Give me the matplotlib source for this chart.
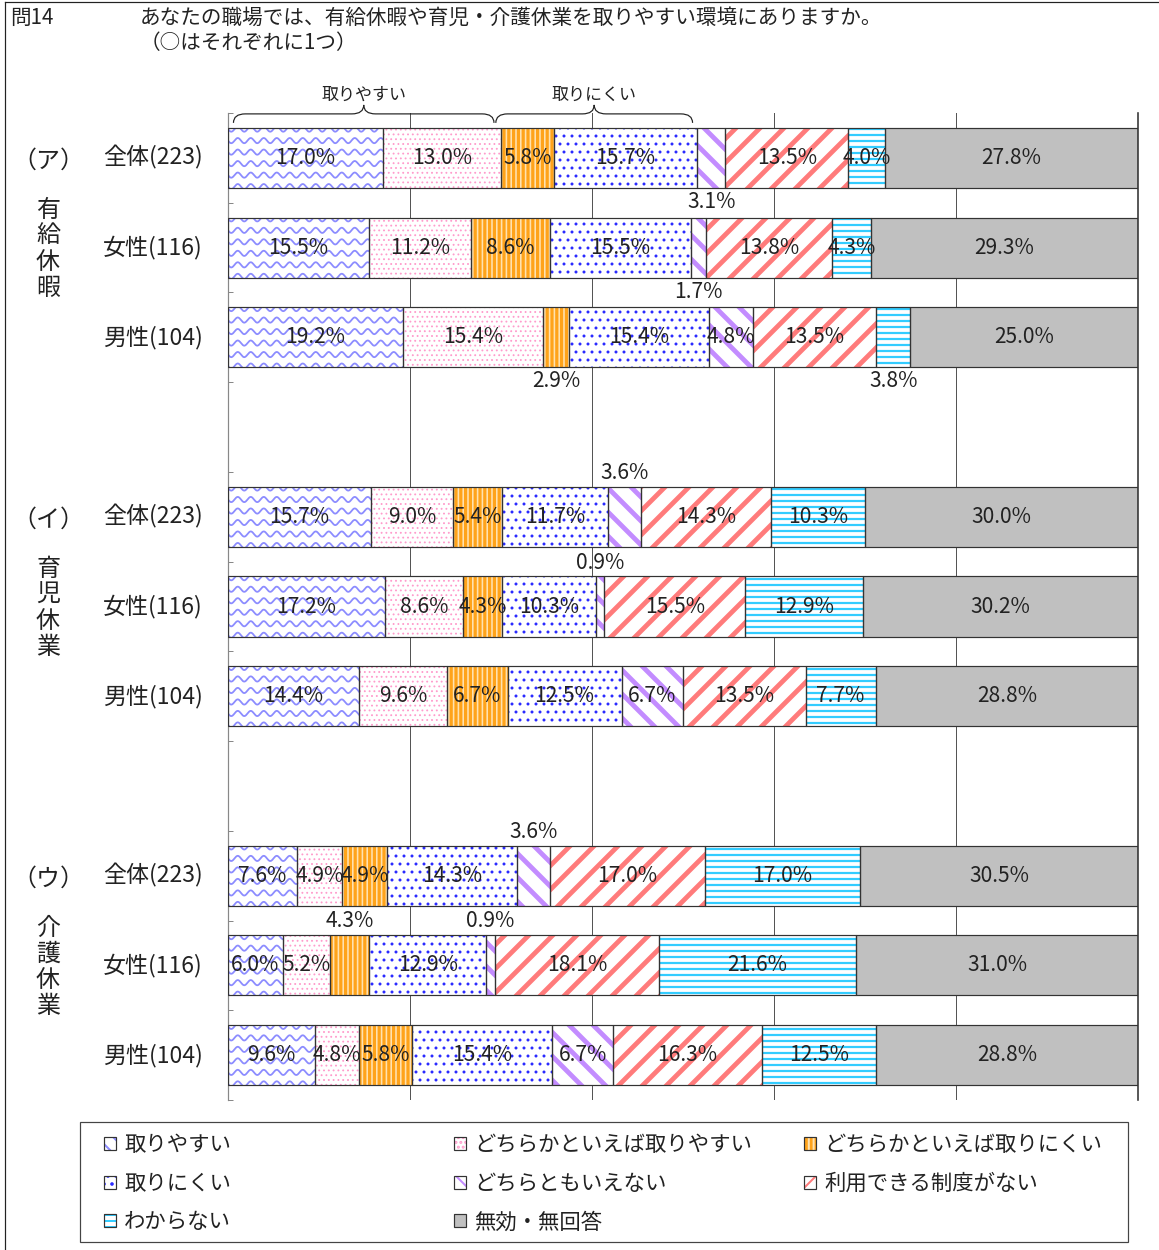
import matplotlib
matplotlib.use("Agg")
import matplotlib.pyplot as plt
import matplotlib.patches as mpatches
from matplotlib.legend_handler import HandlerTuple
from matplotlib.path import Path
import numpy as np

plt.rcParams["font.family"] = ["Noto Sans CJK JP", "DejaVu Sans"]

TITLE_NO = "問14"
TITLE = "あなたの職場では、有給休暇や育児・介護休業を取りやすい環境にありますか。"
SUBTITLE = "（○はそれぞれに1つ）"

GROUP_MARKS = ["（ア）", "（イ）", "（ウ）"]
GROUP_NAMES = ["有給休暇", "育児休業", "介護休業"]
ROW_LABELS = ["全体(223)", "女性(116)", "男性(104)"]

SERIES = ["取りやすい", "どちらかといえば取りやすい", "どちらかといえば取りにくい",
          "取りにくい", "どちらともいえない", "利用できる制度がない",
          "わからない", "無効・無回答"]

PAID_LEAVE = [
    [17.0, 13.0, 5.8, 15.7, 3.1, 13.5, 4.0, 27.8],
    [15.5, 11.2, 8.6, 15.5, 1.7, 13.8, 4.3, 29.3],
    [19.2, 15.4, 2.9, 15.4, 4.8, 13.5, 3.8, 25.0],
]
CHILDCARE_LEAVE = [
    [15.7, 9.0, 5.4, 11.7, 3.6, 14.3, 10.3, 30.0],
    [17.2, 8.6, 4.3, 10.3, 0.9, 15.5, 12.9, 30.2],
    [14.4, 9.6, 6.7, 12.5, 6.7, 13.5, 7.7, 28.8],
]
NURSING_LEAVE = [
    [7.6, 4.9, 4.9, 14.3, 3.6, 17.0, 17.0, 30.5],
    [6.0, 5.2, 4.3, 12.9, 0.9, 18.1, 21.6, 31.0],
    [9.6, 4.8, 5.8, 15.4, 6.7, 16.3, 12.5, 28.8],
]

# labels drawn outside the bar: (bar index, series index, side)
OUTSIDE_LABELS = [(0, 4, 1), (1, 4, 1), (2, 2, 1), (2, 6, 1),
                  (3, 4, -1), (4, 4, -1), (6, 4, -1), (7, 2, -1), (7, 4, -1)]

# face, hatch colour, hatch, hatch linewidth
STYLES = [
    ("white", "#9a9aff", "", 0.0),
    ("white", "#ff9ccc", ".....", 0.5),
    ("#ffa31a", "#ffe2b0", "|||||", 0.8),
    ("white", "#2a2aff", "...", 0.7),
    ("white", "#c38cff", "\\\\", 2.4),
    ("white", "#ff7b7b", "//", 2.4),
    ("white", "#33ccff", "----", 1.1),
    ("#c0c0c0", "#c0c0c0", "", 0.0),
]
WAVE_COLOR = "#8c8cff"

W, H, DPI = 1159, 1250, 144
fig = plt.figure(figsize=(W / DPI, H / DPI), dpi=DPI)
ax = fig.add_axes([228 / W, 1 - 1100 / H, 910 / W, 987 / H])

values = np.array(PAID_LEAVE + CHILDCARE_LEAVE + NURSING_LEAVE)
# 100% stacked: widths are shares of each row total
shares = values / values.sum(axis=1, keepdims=True) * 100
ypos = np.array([g * 4 + i for g in range(3) for i in range(3)], dtype=float)
bar_h = 0.67
lefts = np.hstack([np.zeros((len(shares), 1)), np.cumsum(shares, axis=1)[:, :-1]])

px_x = 100 / 910
px_y = 1 / 89.7

for j, (face, hcol, hatch, hlw) in enumerate(STYLES):
    with plt.rc_context({"hatch.linewidth": max(hlw, 0.1)}):
        bars = ax.barh(ypos, shares[:, j], left=lefts[:, j], height=bar_h,
                       color=face, edgecolor=hcol, hatch=hatch or None,
                       linewidth=0, zorder=2)
    for p in bars:
        if hasattr(p, "set_hatch_linewidth") and hlw:
            p.set_hatch_linewidth(hlw)
    if j == 0:
        # wavy texture for the first answer
        for p, y, x0, v in zip(bars, ypos, lefts[:, j], shares[:, j]):
            xs = np.linspace(x0, x0 + v, 400)
            for k in range(-3, 3):
                yy = y + (k + 0.5) * 11.5 * px_y + 2.6 * px_y * np.sin(2 * np.pi * xs / (13 * px_x))
                ln, = ax.plot(xs, yy, color=WAVE_COLOR, lw=0.9, zorder=2.5)
                ln.set_clip_path(p)
    ax.barh(ypos, shares[:, j], left=lefts[:, j], height=bar_h, fill=False,
            edgecolor="#333333", linewidth=0.6, zorder=3)

outside = {(b, s): side for b, s, side in OUTSIDE_LABELS}
for b in range(len(values)):
    for s in range(len(SERIES)):
        xc = lefts[b, s] + shares[b, s] / 2
        txt = f"{values[b, s]:.1f}%"
        if (b, s) in outside:
            y = ypos[b] + outside[(b, s)] * (bar_h / 2 + 0.155)
        else:
            y = ypos[b]
        ax.text(xc, y, txt, ha="center", va="center", fontsize=10.5,
                color="#222222", zorder=5)

ax.set_xlim(0, 100)
ax.set_ylim(10.5, -0.5)
ax.set_xticks([20, 40, 60, 80])
ax.grid(axis="x", color="#555555", linewidth=0.5, zorder=0)
ax.set_axisbelow(True)
ax.tick_params(axis="x", length=0, labelbottom=False)
ax.set_yticks(np.arange(-0.5, 11, 1))
ax.tick_params(axis="y", direction="in", length=2.5, width=0.5, color="#888888",
               labelleft=False)
ax.spines["top"].set_visible(False)
ax.spines["bottom"].set_visible(False)
ax.spines["left"].set_color("#888888")
ax.spines["left"].set_linewidth(0.6)
ax.spines["right"].set_color("#333333")
ax.spines["right"].set_linewidth(0.8)

# row and group labels
ytr = ax.get_yaxis_transform()
for b, y in enumerate(ypos):
    ax.text(-0.1374, y, ROW_LABELS[b % 3], transform=ytr, ha="left", va="center",
            fontsize=11.5, color="#222222")
for g, (mark, name) in enumerate(zip(GROUP_MARKS, GROUP_NAMES)):
    gy = ypos[g * 3]
    ax.text(-0.1978, gy + 0.03, mark, transform=ytr, ha="center", va="center",
            fontsize=12, color="#222222")
    for k, ch in enumerate(name):
        ax.text(-0.1978, gy + 0.58 + k * 0.29, ch, transform=ytr, ha="center",
                va="center", fontsize=12, color="#222222")


def brace(x0, x1, yb, ym, yt, r):
    xc = (x0 + x1) / 2
    verts = [(x0, yb), (x0, ym), (x0 + r, ym), (xc - r, ym), (xc, ym), (xc, yt),
             (xc, ym), (xc + r, ym), (x1 - r, ym), (x1, ym), (x1, yb)]
    codes = [Path.MOVETO, Path.CURVE3, Path.CURVE3, Path.LINETO, Path.CURVE3,
             Path.CURVE3, Path.CURVE3, Path.CURVE3, Path.LINETO, Path.CURVE3,
             Path.CURVE3]
    ax.add_patch(mpatches.PathPatch(Path(verts, codes), fill=False,
                                    edgecolor="#222222", lw=0.6, clip_on=False))
    return xc


first = shares[0]
easy_end = first[0] + first[1]
hard_end = easy_end + first[2] + first[3]
for (x0, x1), label in [((0.6, easy_end - 0.8), "取りやすい"),
                        ((easy_end - 0.6, hard_end - 0.5), "取りにくい")]:
    xc = brace(x0, x1, -0.39, -0.49, -0.59, 1.3)
    ax.text(xc, -0.70, label, ha="center", va="center", fontsize=8.5,
            color="#222222", clip_on=False)

# titles
fig.text(10 / W, 1 - 18 / H, TITLE_NO, ha="left", va="center", fontsize=10.3, color="#222222")
fig.text(140 / W, 1 - 18 / H, TITLE, ha="left", va="center", fontsize=10.3, color="#222222")
fig.text(140 / W, 1 - 43 / H, SUBTITLE, ha="left", va="center", fontsize=10.3, color="#222222")

# outer frame (left and top edges)
fig.add_artist(plt.Line2D([5 / W, 5 / W], [0, 1 - 2 / H], transform=fig.transFigure,
                          color="#222222", lw=0.6))
fig.add_artist(plt.Line2D([5 / W, 1], [1 - 2 / H, 1 - 2 / H], transform=fig.transFigure,
                          color="#222222", lw=0.6))

# legend
handles = []
for j, (face, hcol, hatch, hlw) in enumerate(STYLES):
    if j == 0:
        fill = mpatches.Patch(facecolor="white", edgecolor=WAVE_COLOR, hatch="\\\\\\", lw=0)
    else:
        fill = mpatches.Patch(facecolor=face, edgecolor=hcol, hatch=hatch or None, lw=0)
    outline = mpatches.Patch(facecolor="none", edgecolor="#333333", lw=0.6)
    handles.append((fill, outline))

columns = [[0, 3, 6], [1, 4, 7], [2, 5]]
for c, (idx, xpx) in enumerate(zip(columns, [104, 454, 804])):
    leg = fig.legend([handles[i] for i in idx], [SERIES[i] for i in idx],
                     handler_map={tuple: HandlerTuple(ndivide=1, pad=0)},
                     loc="upper left", bbox_to_anchor=(xpx / W, 1 - 1134 / H),
                     frameon=False, fontsize=10.7, handlelength=0.55,
                     handleheight=0.55, handletextpad=0.4, labelspacing=0.78,
                     borderpad=0, borderaxespad=0, labelcolor="#222222")
fig.add_artist(mpatches.Rectangle((80 / W, 1 - 1242 / H), 1048 / W, 120 / H,
                                  transform=fig.transFigure, fill=False,
                                  edgecolor="#444444", lw=0.6))

fig.savefig("out.png", dpi=DPI)
